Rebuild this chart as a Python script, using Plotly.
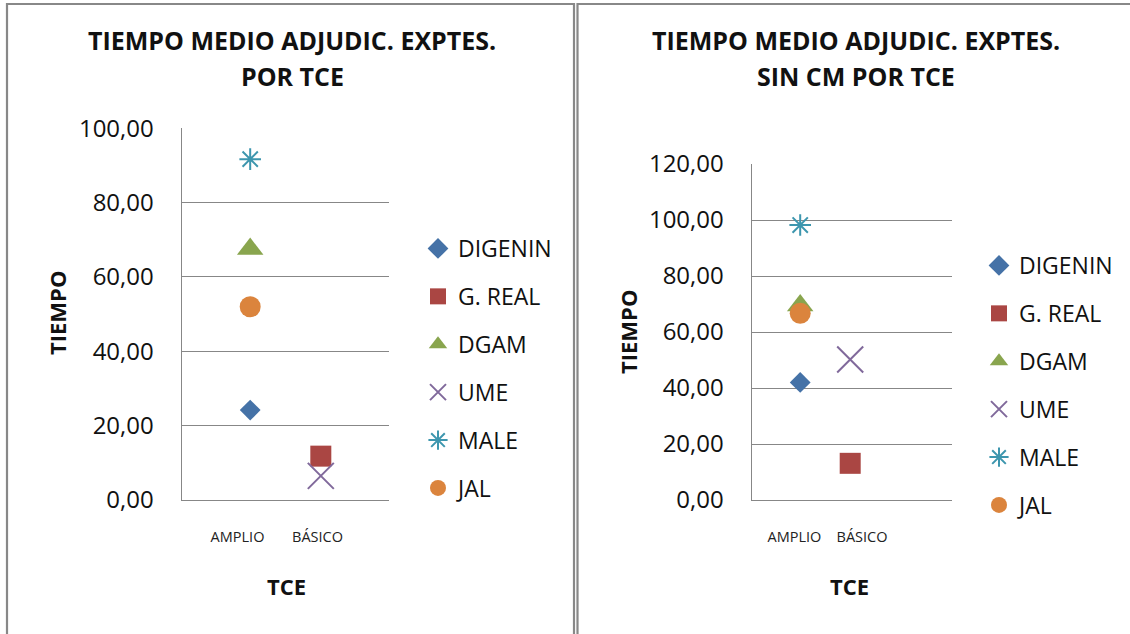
import plotly.graph_objects as go

W, H = 1130, 634

categories = ["AMPLIO", "BÁSICO"]
series_names = ["DIGENIN", "G. REAL", "DGAM", "UME", "MALE", "JAL"]

# Left chart: TIEMPO MEDIO ADJUDIC. EXPTES. POR TCE
left_digenin = [24.2, None]
left_greal = [None, 11.8]
left_dgam = [67.5, None]
left_ume = [None, 6.5]
left_male = [91.7, None]
left_jal = [52.0, None]

# Right chart: TIEMPO MEDIO ADJUDIC. EXPTES. SIN CM POR TCE
right_digenin = [42.0, None]
right_greal = [None, 13.1]
right_dgam = [69.5, None]
right_ume = [None, 50.2]
right_male = [98.2, None]
right_jal = [66.7, None]

left_values = [left_digenin, left_greal, left_dgam, left_ume, left_male, left_jal]
right_values = [right_digenin, right_greal, right_dgam, right_ume, right_male, right_jal]

colors = ["#4572A7", "#AA4643", "#89A54E", "#80699B", "#3D96AE", "#DB843D"]
symbols = ["diamond", "square", "triangle-up", "x-thin-open", "asterisk-open", "circle"]
sizes = [16, 21, 23, 26, 18, 21]

FONT = "Open Sans"
GRID = "#878787"

fig = go.Figure()

for i, name in enumerate(series_names):
    open_sym = symbols[i].endswith("open")
    mk = dict(symbol=symbols[i], size=sizes[i], color=colors[i],
              line=dict(width=2 if open_sym else 0, color=colors[i]))
    fig.add_trace(go.Scatter(x=categories, y=left_values[i], mode="markers", name=name,
                             marker=mk, xaxis="x", yaxis="y", legend="legend",
                             legendgroup="L" + name, cliponaxis=False))
    fig.add_trace(go.Scatter(x=categories, y=right_values[i], mode="markers", name=name,
                             marker=mk, xaxis="x2", yaxis="y2", legend="legend2",
                             legendgroup="R" + name, cliponaxis=False))

# empty helper traces so the category-label axes exist
fig.add_trace(go.Scatter(x=[], y=[], xaxis="x3", yaxis="y", showlegend=False, hoverinfo="skip"))
fig.add_trace(go.Scatter(x=[], y=[], xaxis="x4", yaxis="y2", showlegend=False, hoverinfo="skip"))

def px_x(p):
    return p / W

def px_y(p):
    return 1 - p / H

axis_common = dict(showgrid=False, showline=True, linecolor=GRID, linewidth=1.3,
                   ticks="", showticklabels=False, zeroline=False, fixedrange=True,
                   automargin=False)
label_axis = dict(showgrid=False, showline=False, ticks="", zeroline=False,
                  fixedrange=True, automargin=False, tickangle=0,
                  tickfont=dict(family=FONT, size=14.5, color="#222"),
                  ticklabelstandoff=26, tickvals=[0, 1], ticktext=categories)
yaxis_common = dict(showgrid=True, gridcolor=GRID, gridwidth=1.3, showline=True,
                    linecolor=GRID, linewidth=1.3, ticks="", tickformat=".2f",
                    tickfont=dict(family=FONT, size=24, color="#111"),
                    ticklabelstandoff=22, zeroline=False, fixedrange=True,
                    automargin=False)

legend_common = dict(xanchor="left", yanchor="top",
                     font=dict(family=FONT, size=23, color="#111"),
                     tracegroupgap=15, bgcolor="rgba(0,0,0,0)", borderwidth=0)

LEFT_DOM = [px_x(181.7), px_x(389.3)]
RIGHT_DOM = [px_x(751.7), px_x(951.7)]

fig.update_layout(
    width=W, height=H, autosize=False,
    margin=dict(l=0, r=0, t=0, b=0, pad=0, autoexpand=False),
    paper_bgcolor="white", plot_bgcolor="white",
    separators=",.",
    font=dict(family=FONT, color="#111"),
    xaxis=dict(domain=LEFT_DOM, anchor="y", type="category",
               range=[-0.97, 1.97], **axis_common),
    yaxis=dict(domain=[px_y(500), px_y(128.3)], anchor="x", range=[0, 100],
               dtick=20, **yaxis_common),
    xaxis2=dict(domain=RIGHT_DOM, anchor="y2", type="category",
                range=[-0.97, 3.03], **axis_common),
    yaxis2=dict(domain=[px_y(500), px_y(164)], anchor="x2", range=[0, 120],
                dtick=20, **yaxis_common),
    # category label axes (Excel spreads the labels a little differently from the markers)
    xaxis3=dict(domain=LEFT_DOM, anchor="y", overlaying="x", type="linear",
                range=[-0.6975, 1.8975], **label_axis),
    xaxis4=dict(domain=RIGHT_DOM, anchor="y2", overlaying="x2", type="linear",
                range=[-0.634, 2.329], **label_axis),
    legend=dict(x=px_x(418), y=px_y(227), **legend_common),
    legend2=dict(x=px_x(979), y=px_y(244), **legend_common),
    showlegend=True,
)

# Chart frames
fig.add_shape(type="rect", xref="paper", yref="paper",
              x0=px_x(7), x1=px_x(574), y0=px_y(700), y1=px_y(4),
              line=dict(color="#888888", width=2.2), fillcolor="rgba(0,0,0,0)", layer="below")
fig.add_shape(type="rect", xref="paper", yref="paper",
              x0=px_x(577.5), x1=px_x(1140), y0=px_y(700), y1=px_y(4),
              line=dict(color="#888888", width=2.2), fillcolor="rgba(0,0,0,0)", layer="below")

def ann(text, x, y, size, bold=True, angle=0):
    fig.add_annotation(text=f"<b>{text}</b>" if bold else text, xref="paper", yref="paper",
                       x=px_x(x), y=px_y(y), xanchor="center", yanchor="middle",
                       showarrow=False, textangle=angle,
                       font=dict(family=FONT, size=size, color="#111"))

# Titles
ann("TIEMPO MEDIO ADJUDIC. EXPTES.", 292, 40, 25)
ann("POR TCE", 292, 76, 25)
ann("TIEMPO MEDIO ADJUDIC. EXPTES.", 856, 40, 25)
ann("SIN CM POR TCE", 856, 76, 25)
# Axis titles
ann("TIEMPO", 57, 313, 22, angle=-90)
ann("TIEMPO", 628, 332, 22, angle=-90)
ann("TCE", 286, 586, 22)
ann("TCE", 850, 586, 22)

fig.write_html("out.html", config={"responsive": False, "displayModeBar": False},
               post_script="document.body.style.margin='0';document.body.style.overflow='hidden';")
